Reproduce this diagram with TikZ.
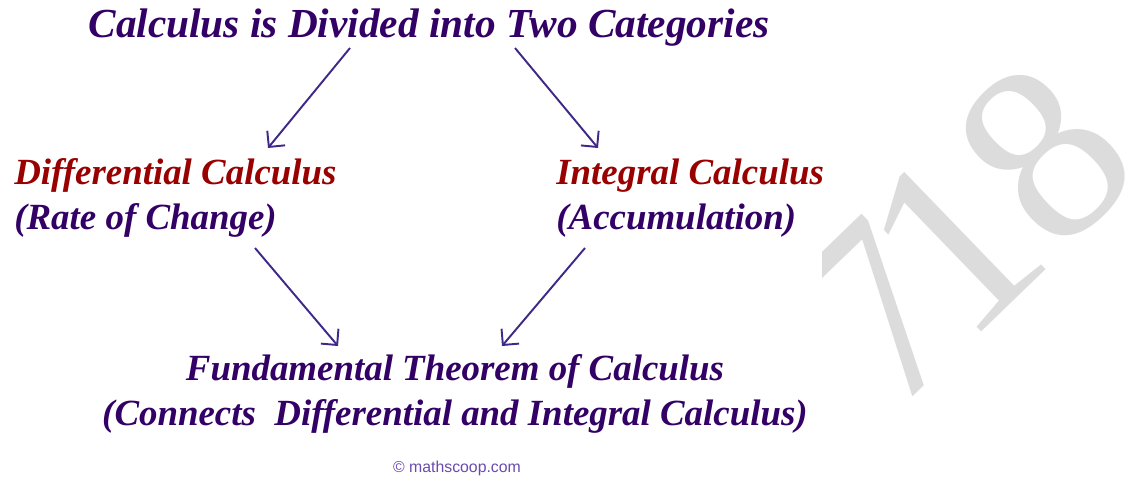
\documentclass[tikz,border=0pt]{standalone}
\usepackage{fontspec}
\setmainfont{Liberation Serif}
\setsansfont{Liberation Sans}
\usetikzlibrary{arrows.meta,positioning}
\definecolor{ink}{HTML}{330066}
\definecolor{topic}{HTML}{990000}
\definecolor{arrowink}{HTML}{402888}
\definecolor{mark}{HTML}{6A4AAE}
\definecolor{wmark}{HTML}{DCDCDC}

\begin{document}
\begin{tikzpicture}[
    x=0.02cm, y=-0.02cm,
    every node/.style={inner sep=0pt, text=ink},
    headline/.style={font=\fontsize{23.5}{28}\selectfont\bfseries\itshape},
    branch/.style={font=\fontsize{21}{25.5}\selectfont\bfseries\itshape, align=left, anchor=west},
    result/.style={font=\fontsize{21}{25.8}\selectfont\bfseries\itshape, align=center},
    arrow/.style={-{Straight Barb[length=2.3mm, width=4.6mm]}, arrowink, line width=1.1pt}
]

% Page frame
\useasboundingbox (0,0) rectangle (1139,479);

% Watermark
\begin{scope}
  \clip (822,0) rectangle (1139,479);
  \node[rotate=44, text=wmark, font=\fontsize{145}{145}\selectfont] (wm) at (962,234) {7\kern-0.1em18};
\end{scope}

% Title and the two branches
\node[headline] (title) at (429,28) {Calculus is Divided into Two Categories};
\node[branch] (diff) at (14,198) {\textcolor{topic}{Differential Calculus}\\(Rate of Change)};
\node[branch] (integ) at (556,198) {\textcolor{topic}{Integral Calculus}\\(Accumulation)};

% Joint result
\node[result] (ftc) at (455,394) {Fundamental Theorem of Calculus\\(Connects\ \ Differential and Integral Calculus)};

\node[font=\fontsize{9}{11}\selectfont\sffamily, text=mark] (site) at (457,468) {© mathscoop.com};

% Arrow ends
\coordinate (t1) at (350,48);
\coordinate (d1) at (268,148);
\coordinate (t2) at (515,48);
\coordinate (i1) at (598,148);
\coordinate (d2) at (255,248);
\coordinate (f1) at (338,346);
\coordinate (i2) at (585,248);
\coordinate (f2) at (502,346);

\draw[arrow] (t1) -- (d1);
\draw[arrow] (t2) -- (i1);
\draw[arrow] (d2) -- (f1);
\draw[arrow] (i2) -- (f2);

\end{tikzpicture}
\end{document}
